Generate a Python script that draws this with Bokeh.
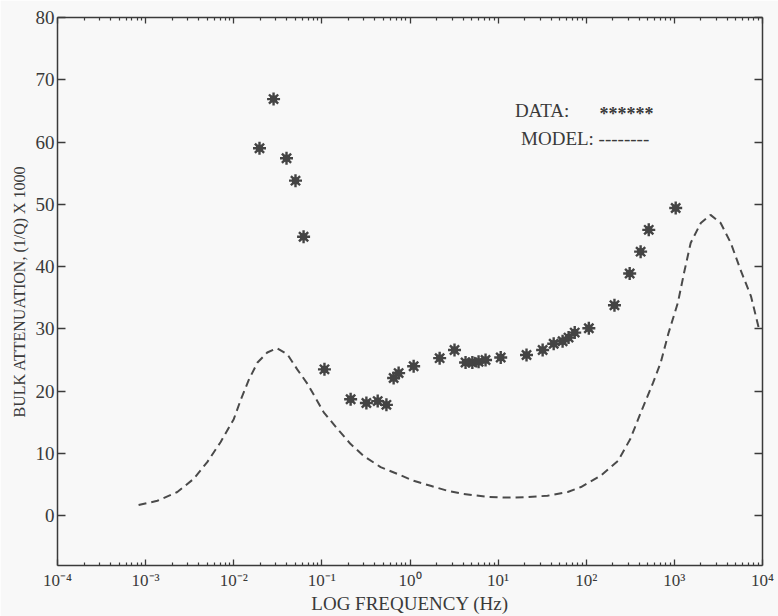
from bokeh.plotting import figure
from bokeh.models import (LogAxis, LinearAxis, FixedTicker, CustomJSTickFormatter,
                          Range1d, ColumnDataSource)
from bokeh.embed import file_html
from bokeh.resources import INLINE
from bokeh.core.properties import value

# ---- data ----
data_freq = [0.0196, 0.0283, 0.0397, 0.0502, 0.062, 0.107, 0.212, 0.32, 0.43, 0.54,
             0.652, 0.743, 1.1, 2.17, 3.2, 4.27, 5.1, 6.0, 7.2, 10.7, 21, 32, 42.7,
             53.9, 63, 74, 107, 209, 311, 414, 512, 1035]
data_atten = [59.0, 66.9, 57.4, 53.8, 44.8, 23.5, 18.7, 18.1, 18.4, 17.8,
              22.1, 22.9, 24.0, 25.3, 26.6, 24.6, 24.6, 24.7, 25.0, 25.4, 25.8, 26.6, 27.6,
              28.0, 28.6, 29.4, 30.1, 33.8, 38.9, 42.4, 45.9, 49.4]

model_freq = [0.000832, 0.00136, 0.00229, 0.0035, 0.0050, 0.00708, 0.0100, 0.0120,
              0.0148, 0.0186, 0.0240, 0.0309, 0.0407, 0.0525, 0.0692, 0.105, 0.151,
              0.212, 0.297, 0.464, 0.723, 1.10, 1.71, 2.67, 4.07, 7.59, 12.9, 21.6,
              36.3, 61.7, 87.1, 145, 229, 316, 417, 575, 700, 861, 1096, 1288, 1531,
              1995, 2570, 3350, 4365, 5623, 7413, 9120]
model_atten = [1.7, 2.4, 3.8, 5.9, 8.6, 11.8, 15.5, 18.6,
               21.8, 24.6, 26.2, 26.9, 25.9, 23.5, 21.1, 16.6, 13.9,
               11.5, 9.6, 7.8, 6.7, 5.6, 4.8, 4.0, 3.5, 3.0, 2.9, 3.0,
               3.2, 3.8, 4.6, 6.4, 8.8, 12.3, 16.6, 21.4, 24.6, 29.4, 34.2, 39.0, 43.8,
               47.0, 48.3, 47.0, 43.8, 39.5, 35.2, 30.0]

x_ticks = [1e-4, 1e-3, 1e-2, 1e-1, 1e0, 1e1, 1e2, 1e3, 1e4]
x_tick_labels = ["10\u207b\u2074", "10\u207b\u00b3", "10\u207b\u00b2", "10\u207b\u00b9",
                 "10\u2070", "10\u00b9", "10\u00b2", "10\u00b3", "10\u2074"]
y_ticks = [0, 10, 20, 30, 40, 50, 60, 70, 80]

legend_data_label = "DATA:"
legend_data_symbol = "******"
legend_model_label = "MODEL: --------"

FONT = "Liberation Serif"
INK = "#3a3a3a"
BG = "#f8f8f8"

minor = [m * d for d in x_ticks[:-1] for m in range(2, 10)]

p = figure(width=778, height=616, x_axis_type="log",
           x_range=Range1d(1e-4, 1e4), y_range=Range1d(-8, 80),
           output_backend="svg", toolbar_location=None,
           min_border_left=57, min_border_right=16, min_border_top=17, min_border_bottom=49,
           background_fill_color=BG, border_fill_color=BG, outline_line_color=None)
p.grid.visible = False

fmt = CustomJSTickFormatter(args=dict(labels=x_tick_labels, ticks_=x_ticks),
                            code="""
    let best = 0, bd = 1e9;
    for (let i = 0; i < ticks_.length; i++) {
        const d = Math.abs(Math.log10(ticks_[i]) - Math.log10(tick));
        if (d < bd) { bd = d; best = i; }
    }
    return labels[best];
""")
blank = CustomJSTickFormatter(code="return '';")

def style_x(ax, labels=True):
    ax.ticker = FixedTicker(ticks=x_ticks, minor_ticks=minor)
    ax.major_tick_in = 6
    ax.major_tick_out = 0
    ax.minor_tick_in = 3
    ax.minor_tick_out = 0
    ax.axis_line_color = INK
    ax.axis_line_width = 1.5
    ax.major_tick_line_color = INK
    ax.minor_tick_line_color = INK
    ax.major_tick_line_width = 1.3
    ax.minor_tick_line_width = 1.2
    ax.formatter = fmt if labels else blank
    ax.major_label_text_font = FONT
    ax.major_label_text_font_size = "17px"
    ax.major_label_text_color = INK
    ax.major_label_standoff = 5

def style_y(ax, labels=True):
    ax.ticker = FixedTicker(ticks=y_ticks)
    ax.major_tick_in = 8
    ax.major_tick_out = 0
    ax.minor_tick_in = 0
    ax.minor_tick_out = 0
    ax.axis_line_color = INK
    ax.axis_line_width = 1.5
    ax.major_tick_line_color = INK
    ax.major_tick_line_width = 1.3
    ax.major_label_text_font = FONT
    ax.major_label_text_font_size = "19px"
    ax.major_label_text_color = INK
    ax.major_label_standoff = 3
    if not labels:
        ax.formatter = blank

style_x(p.xaxis[0])
p.xaxis[0].axis_label = "LOG FREQUENCY (Hz)"
p.xaxis[0].axis_label_text_font = FONT
p.xaxis[0].axis_label_text_font_size = "19px"
p.xaxis[0].axis_label_text_font_style = "normal"
p.xaxis[0].axis_label_text_color = INK
p.xaxis[0].axis_label_standoff = 0

style_y(p.yaxis[0])
p.yaxis[0].axis_label = "BULK ATTENUATION, (1/Q) X 1000"
p.yaxis[0].axis_label_text_font = FONT
p.yaxis[0].axis_label_text_font_size = "16px"
p.yaxis[0].axis_label_text_font_style = "normal"
p.yaxis[0].axis_label_text_color = INK
p.yaxis[0].axis_label_standoff = 5

top = LogAxis()
style_x(top, labels=False)
top.major_label_standoff = 0
p.add_layout(top, "above")

right = LinearAxis()
style_y(right, labels=False)
right.major_label_standoff = 0
p.add_layout(right, "right")

data_src = ColumnDataSource(dict(f=data_freq, q=data_atten))
model_src = ColumnDataSource(dict(f=model_freq, q=model_atten))

p.line("f", "q", source=model_src, line_color="#4a4a4a", line_width=2, line_dash="8 5")
p.scatter("f", "q", source=data_src, marker="square", size=7, fill_color="#444444",
          line_color=None)
p.scatter("f", "q", source=data_src, marker="asterisk", size=13, line_color="#444444",
          line_width=2.4)

p.text(x=[15.5], y=[65.1], text=[legend_data_label], text_font=value(FONT),
       text_font_size="19px", text_color=INK, text_baseline="middle", text_align="left")
p.text(x=[141], y=[64.5], text=[legend_data_symbol], text_font=value(FONT),
       text_font_size="18px", text_font_style="bold", text_color=INK,
       text_baseline="middle", text_align="left")
p.text(x=[18.2], y=[60.6], text=[legend_model_label], text_font=value(FONT),
       text_font_size="19px", text_color=INK, text_baseline="middle", text_align="left")

open("out.html", "w").write(file_html(p, INLINE))
